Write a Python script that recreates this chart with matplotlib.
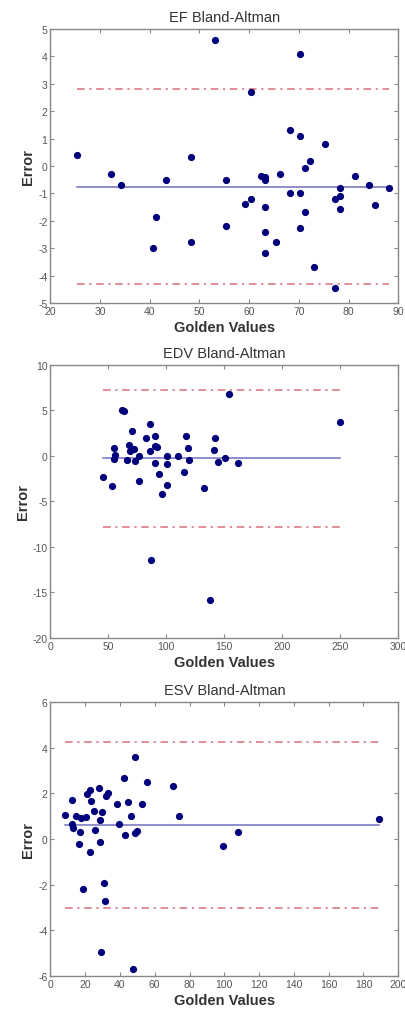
import matplotlib
matplotlib.use('Agg')
import matplotlib.pyplot as plt

plt.rcParams['font.family'] = ['Liberation Sans', 'DejaVu Sans']
plt.rcParams['axes.unicode_minus'] = False

# EF
ef_x = [25.4, 32.3, 34.2, 41.2, 40.6, 43.2, 48.2, 48.2, 53.2, 55.3, 55.3, 59.1, 60.3, 60.3,
        62.3, 63.1, 63.1, 63.1, 63.1, 63.1, 65.3, 66.3, 68.2, 68.2, 70.3, 70.3, 70.3, 70.3,
        71.2, 71.2, 72.2, 73.1, 75.3, 77.2, 77.2, 78.2, 78.2, 78.2, 81.2, 84.1, 85.4, 88.1]
ef_err = [0.4, -0.3, -0.68, -1.87, -3.0, -0.5, 0.32, -2.77, 4.6, -0.5, -2.19, -1.37, -1.19, 2.7,
          -0.38, -0.4, -0.5, -1.49, -2.4, -3.19, -2.77, -0.3, 1.3, -1.0, 4.1, 1.1, -1.0, -2.27,
          -0.08, -1.69, 0.19, -3.67, 0.81, -1.2, -4.46, -0.8, -1.08, -1.58, -0.38, -0.68, -1.44, -0.79]
ef_mean = -0.75
ef_limits = [2.81, -4.32]

# EDV
edv_x = [62.0, 63.5, 153.8, 250.0, 85.5, 70.3, 82.1, 90.4, 117.0, 141.7, 67.7, 90.4, 91.9,
         118.4, 141.4, 72.0, 55.0, 68.8, 86.1, 56.0, 54.7, 65.7, 72.6, 76.6, 101.0, 110.0,
         119.5, 150.4, 144.6, 161.6, 90.4, 101.0, 45.5, 76.6, 93.9, 115.5, 53.0, 100.8,
         132.5, 96.2, 86.4, 137.4]
edv_err = [5.1, 4.9, 6.81, 3.74, 3.48, 2.71, 1.98, 2.16, 2.23, 1.98, 1.21, 1.13, 0.95,
           0.85, 0.66, 0.77, 0.85, 0.58, 0.58, 0.14, -0.33, -0.48, -0.58, 0.0, 0.0, 0.0,
           -0.48, -0.25, -0.66, -0.8, -0.8, -0.84, -2.27, -2.75, -1.94, -1.72, -3.33, -3.15,
           -3.52, -4.16, -11.43, -15.8]
edv_mean = -0.26
edv_limits = [7.25, -7.84]

# ESV
esv_x = [8.6, 12.2, 12.2, 13.0, 14.5, 17.8, 20.7, 17.0, 21.2, 23.0, 23.5, 24.9, 27.9, 29.9,
         28.5, 25.8, 31.9, 33.1, 38.5, 39.2, 42.3, 44.6, 46.1, 48.6, 52.4, 55.7, 70.6, 74.2,
         42.8, 48.6, 49.7, 107.6, 189.1, 28.5, 16.3, 22.6, 99.3, 18.9, 30.8, 31.4, 28.9, 47.4]
esv_err = [1.05, 1.7, 0.67, 0.48, 1.02, 0.92, 0.94, 0.29, 1.97, 2.16, 1.65, 1.24, 2.22, 1.17,
           0.83, 0.39, 1.87, 2.0, 1.52, 0.64, 2.69, 1.61, 1.01, 3.6, 1.52, 2.5, 2.33, 1.0,
           0.19, 0.26, 0.33, 0.29, 0.88, -0.12, -0.23, -0.58, -0.31, -2.2, -1.92, -2.72, -4.95, -5.68]
esv_mean = 0.63
esv_limits = [4.23, -3.02]

panels = [
    ('EF Bland-Altman', ef_x, ef_err, ef_mean, ef_limits, (20, 90), (-5, 5),
     range(20, 91, 10), range(-5, 6, 1)),
    ('EDV Bland-Altman', edv_x, edv_err, edv_mean, edv_limits, (0, 300), (-20, 10),
     range(0, 301, 50), range(-20, 11, 5)),
    ('ESV Bland-Altman', esv_x, esv_err, esv_mean, esv_limits, (0, 200), (-6, 6),
     range(0, 201, 20), range(-6, 7, 2)),
]

fig = plt.figure(figsize=(4.06, 10.12), dpi=100)
bottoms = [0.6996, 0.3686, 0.0346]
heights = [0.2708, 0.2698, 0.2708]

for (title, x, err, mean, limits, xlim, ylim, xt, yt), b, h in zip(panels, bottoms, heights):
    ax = fig.add_axes([0.124, b, 0.857, h])
    x0, x1 = min(x), max(x)
    for lim in limits:
        ax.plot([x0, x1], [lim, lim], color='#d9707c', lw=1.1, linestyle='-.', dashes=(5, 3, 1.5, 3))
    ax.plot([x0, x1], [mean, mean], color='#7070c0', lw=1.1)
    ax.plot(x, err, 'o', color='#00007a', ms=5.2, markeredgewidth=0)
    ax.set_xlim(xlim)
    ax.set_ylim(ylim)
    ax.set_xticks(list(xt))
    ax.set_yticks(list(yt))
    ax.tick_params(direction='in', top=True, right=True, length=3, width=0.8,
                   colors='#888888', labelcolor='#555555', labelsize=7.5, pad=2)
    for s in ax.spines.values():
        s.set_color('#888888')
        s.set_linewidth(1.0)
    ax.set_title(title, fontsize=10.5, color='#333333', pad=6)
    ax.set_xlabel('Golden Values', fontsize=10.5, fontweight='bold', color='#333333', labelpad=3)
    ax.set_ylabel('Error', fontsize=10.5, fontweight='bold', color='#333333', labelpad=2)

fig.savefig('out.png', dpi=100)
